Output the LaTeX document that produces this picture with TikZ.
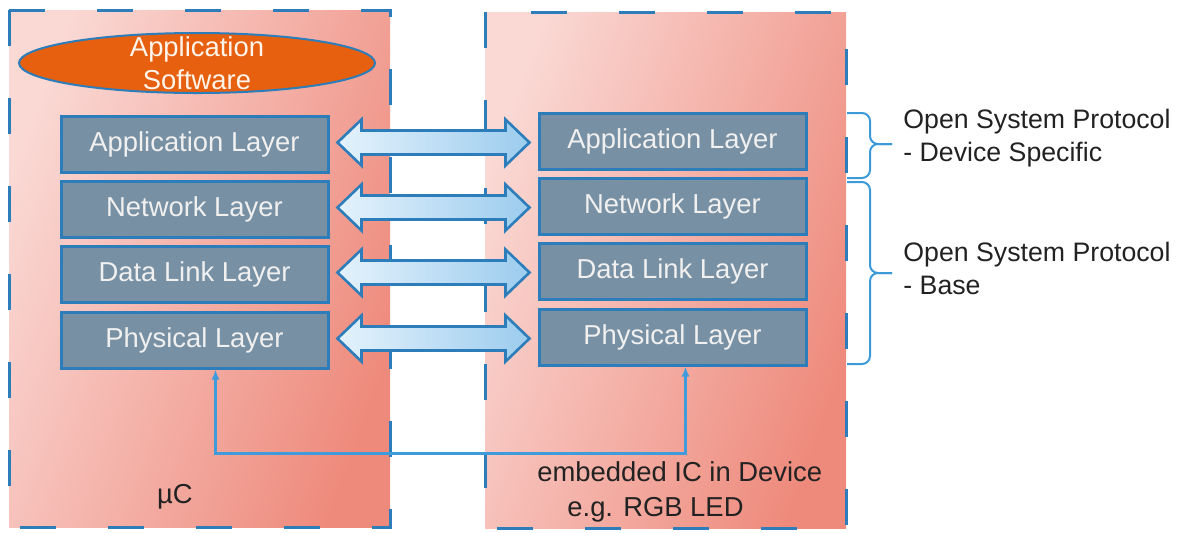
\documentclass[tikz,border=0pt]{standalone}
\usepackage{fontspec}
\setmainfont{Liberation Sans}
\usetikzlibrary{calc,arrows.meta,shapes.geometric}
\definecolor{bordblue}{HTML}{2C7DB9}
\definecolor{bracecol}{HTML}{3C9AD8}
\definecolor{linecol}{HTML}{3F9BDA}
\definecolor{layerfill}{HTML}{7890A3}
\definecolor{pinklight}{HTML}{FAD8D4}
\definecolor{pinkdark}{HTML}{EE8A7C}
\definecolor{orangefill}{HTML}{E6600F}
\definecolor{arrlight}{HTML}{E4F2FC}
\definecolor{arrdark}{HTML}{9CCCEE}
\definecolor{txtdark}{HTML}{222222}
\tikzset{
  every node/.style={font=\fontsize{13.7}{16.5}\selectfont},
  devbox/.style={draw=bordblue, line width=1.5pt, dash pattern=on 18pt off 26pt,
     left color=pinklight, right color=pinkdark, shading angle=70},
  layerbox/.style={draw=bordblue, line width=1.5pt, fill=layerfill, text=white!94!black,
     minimum width=133.5pt, minimum height=28pt, inner sep=0pt},
  arrowsty/.style={draw=bordblue, line width=1.3pt, line join=miter,
     left color=arrlight, right color=arrdark},
  bracesty/.style={draw=bracecol, line width=1pt, rounded corners=4pt},
  fbline/.style={draw=linecol, line width=1.1pt,
     {Latex[length=5pt,width=4pt]}-{Latex[length=5pt,width=4pt]}},
  plain/.style={text=txtdark, inner sep=0pt},
  sidetext/.style={plain, anchor=west, align=left, font=\fontsize{13.35}{16.5}\selectfont}
}
\newcommand\myDblArrow[2]{%
  \coordinate (m) at ($(#1.east)!0.5!(#2.west)$);
  \draw[arrowsty, shift={(m)}] (-96,0) -- (-72,-23) -- (-72,-12) -- (72,-12) -- (72,-23)
     -- (96,0) -- (72,23) -- (72,12) -- (-72,12) -- (-72,23) -- cycle;}
\newcommand\myBrace[3]{% top y, bottom y, mid y
  \draw[bracesty] (847,#1) -| (870,#3) -- (892,#3);
  \draw[bracesty] (847,#2) -| (870,#3) -- (892,#3);}
\begin{document}
\begin{tikzpicture}[x=0.5pt,y=-0.5pt]
\useasboundingbox (0,0) rectangle (1181,532);
% device boxes
\path[devbox] (9,10) rectangle (390,527);
\path[devbox] (485,12) rectangle (846,528);
% application software ellipse
\node[ellipse, draw=bordblue, line width=1pt, fill=orangefill,
      minimum width=178pt, minimum height=30pt, inner sep=0pt,
      label={[align=center, text=white!92!orange, inner sep=0pt]center:Application\\Software}]
      (appsw) at (197,63) {};
% layers left
\node[layerbox] (la) at (194.5,144) {Application Layer};
\node[layerbox] (ln) at (194.5,209) {Network Layer};
\node[layerbox] (ld) at (194.5,274) {Data Link Layer};
\node[layerbox] (lp) at (194.5,340) {Physical Layer};
% layers right
\node[layerbox] (ra) at (672.5,141) {Application Layer};
\node[layerbox] (rn) at (672.5,206) {Network Layer};
\node[layerbox] (rd) at (672.5,271) {Data Link Layer};
\node[layerbox] (rp) at (672.5,337) {Physical Layer};
% double arrows
\myDblArrow{la}{ra}
\myDblArrow{ln}{rn}
\myDblArrow{ld}{rd}
\myDblArrow{lp}{rp}
% physical connection
\draw[fbline] ([xshift=10.5pt]lp.south) -- ++(0,84) -| ([xshift=6.5pt]rp.south);
% braces
\myBrace{113}{178}{144}
\myBrace{182}{364}{273}
\node[sidetext] (osp1) at (903,138) {Open System Protocol\\- Device Specific};
\node[sidetext] (osp2) at (903,268) {Open System Protocol\\- Base};
% labels
\node[plain] (uc) at (175,497) {µC};
\node[plain, anchor=west] (emb1) at (537,472) {embedded IC in Device};
\node[plain, anchor=west] (emb2) at (567,510) {e.g. RGB LED};
\end{tikzpicture}
\end{document}
